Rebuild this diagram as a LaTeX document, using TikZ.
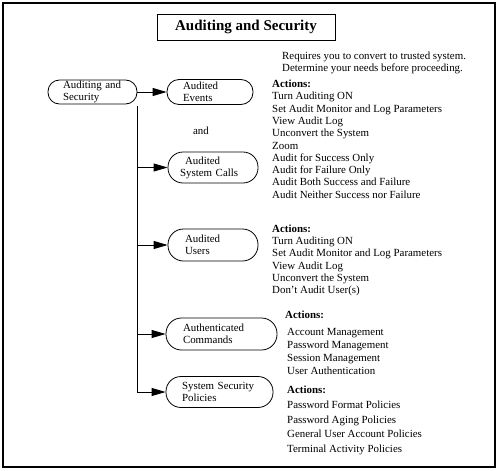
\documentclass[tikz,border=0pt]{standalone}
\usepackage{fontspec}
\setmainfont{Liberation Serif}
\usetikzlibrary{arrows.meta}
\begin{document}
\begin{tikzpicture}[x=1pt,y=-1pt,
  txt/.style={inner sep=0pt, anchor=base west, font=\fontsize{10.9}{12}\selectfont},
  hd/.style={txt, font=\fontsize{10.9}{12}\selectfont\bfseries},
  pill/.style={draw, line width=0.8pt, inner ysep=0pt, align=left, font=\fontsize{10.9}{11.8}\selectfont},
  conn/.style={line width=0.8pt, -{Triangle[length=14pt,width=8pt]}}
]
\useasboundingbox (0,0) rectangle (498,471);
\draw[line width=1.6pt] (3,3) rectangle (495,467);

\node[draw, line width=0.8pt, minimum width=178pt, minimum height=26pt, inner sep=0pt,
      font=\fontsize{15}{18}\selectfont\bfseries] (title) at (246,27) {Auditing and Security};

\node[txt] (req1) at (282,59.5) {Requires you to convert to trusted system.};
\node[txt] (req2) at (282,71) {Determine your needs before proceeding.};

% pills
\node[pill, rounded corners=11.5pt, minimum height=24pt, text width=59pt, inner xsep=15pt] (A) at (92.5,92) {Auditing and\\Security};
\node[pill, rounded corners=12pt, minimum height=25pt, text width=54pt, inner xsep=16pt] (E) at (210,92) {Audited\\Events};
\node[pill, rounded corners=15pt, minimum height=31pt, text width=66pt, inner xsep=12pt] (SC) at (213,167.5) {\hspace*{5pt}Audited\\System Calls};
\node[pill, rounded corners=15.5pt, minimum height=32pt, text width=56pt, inner xsep=17pt] (U) at (213,245) {Audited\\Users};
\node[pill, rounded corners=15.5pt, minimum height=32pt, text width=77pt, inner xsep=17pt] (AC) at (221.5,334) {Authenticated\\Commands};
\node[pill, rounded corners=15pt, minimum height=31pt, text width=75pt, inner xsep=16pt] (SS) at (219.5,392) {System Security\\Policies};

\node[txt, anchor=base] (and) at (201,134.5) {and};

% connectors
\draw[conn] (A) -- (E);
\coordinate (top) at (137,106);
\draw[conn] (top) |- (SS.west);
\draw[conn] (top |- SC.west) -- (SC.west);
\draw[conn] (top |- U.west) -- (U.west);
\draw[conn] (top |- AC.west) -- (AC.west);

% group 1
\node[hd] (g1h) at (272,87.5) {Actions:};
\foreach \t [count=\i] in {Turn Auditing ON, Set Audit Monitor and Log Parameters, View Audit Log, Unconvert the System, Zoom, Audit for Success Only, Audit for Failure Only, Audit Both Success and Failure, Audit Neither Success nor Failure}
  \node[txt] (g1-\i) at (272,87.5+12.3*\i) {\t};

% group 2
\node[hd] (g2h) at (272,232.5) {Actions:};
\foreach \t [count=\i] in {Turn Auditing ON, Set Audit Monitor and Log Parameters, View Audit Log, Unconvert the System, Don't Audit User(s)}
  \node[txt] (g2-\i) at (272,232.5+12.2*\i) {\t};

% group 3
\node[hd] (g3h) at (285,318.5) {Actions:};
\foreach \t [count=\i] in {Account Management, Password Management, Session Management, User Authentication}
  \node[txt] (g3-\i) at (287,322.5+13*\i) {\t};

% group 4
\node[hd] (g4h) at (287,393.5) {Actions:};
\foreach \t [count=\i] in {Password Format Policies, Password Aging Policies, General User Account Policies, Terminal Activity Policies}
  \node[txt] (g4-\i) at (287,393.8+14.7*\i) {\t};
\end{tikzpicture}
\end{document}
